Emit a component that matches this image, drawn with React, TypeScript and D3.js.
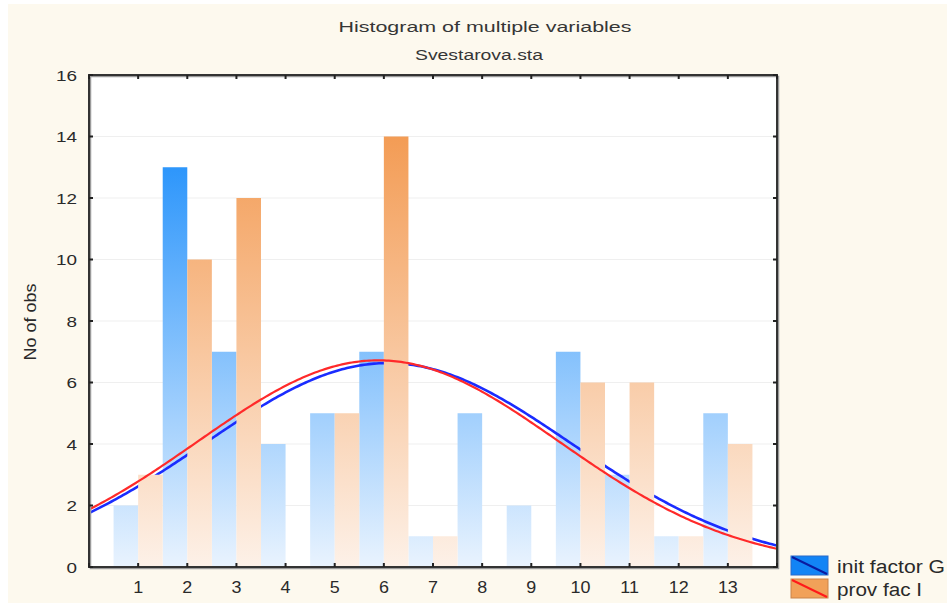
import React from "react";
import * as d3 from "d3";

const categories = [1, 2, 3, 4, 5, 6, 7, 8, 9, 10, 11, 12, 13];
const initFactorG = [2, 13, 7, 4, 5, 7, 1, 5, 2, 7, 3, 1, 5];
const provFacI = [3, 10, 12, 0, 5, 14, 1, 0, 0, 6, 6, 1, 4];
const yTicks = [0, 2, 4, 6, 8, 10, 12, 14, 16];
const xTicks = [0, 1, 2, 3, 4, 5, 6, 7, 8, 9, 10, 11, 12, 13, 14];
const seriesNames = ["init factor G", "prov fac I"];

const W = 947;
const H = 605;
const M = { left: 89, right: 777, top: 75, bottom: 567 };
const FONT = "'Liberation Sans', Arial, sans-serif";

function normalFit(values: number[]) {
  const n = d3.sum(values);
  const mean = d3.sum(values.map((v, i) => v * categories[i])) / n;
  const ss = d3.sum(values.map((v, i) => v * (categories[i] - mean) ** 2));
  const sd = Math.sqrt(ss / (n - 1));
  return (x: number) =>
    (n / (sd * Math.sqrt(2 * Math.PI))) * Math.exp(-((x - mean) ** 2) / (2 * sd * sd));
}

export default function App() {
  const x = d3.scaleLinear().domain([0, 14]).range([M.left, M.right]);
  const y = d3.scaleLinear().domain([0, 16]).range([M.bottom, M.top]);

  const samples = d3.range(0, 14.001, 0.05);
  const fitG = normalFit(initFactorG);
  const fitI = normalFit(provFacI);
  const pathG = d3.line<number>().x((d) => x(d)).y((d) => y(fitG(d)))(samples) || "";
  const pathI = d3.line<number>().x((d) => x(d)).y((d) => y(fitI(d)))(samples) || "";

  return (
    <div style={{ position: "fixed", left: 0, top: 0, width: W, height: H, background: "#fff" }}>
      <svg width={W} height={H} style={{ display: "block" }}>
        <defs>
          <linearGradient id="gBlue" gradientUnits="userSpaceOnUse" x1="0" x2="0" y1={y(0)} y2={y(14)}>
            <stop offset="0" stopColor="#e9f3fe" />
            <stop offset="1" stopColor="#1f8ffb" />
          </linearGradient>
          <linearGradient id="gOrange" gradientUnits="userSpaceOnUse" x1="0" x2="0" y1={y(0)} y2={y(14)}>
            <stop offset="0" stopColor="#fdf1e8" />
            <stop offset="1" stopColor="#f39c55" />
          </linearGradient>
          <clipPath id="plotClip">
            <rect x={M.left} y={M.top} width={M.right - M.left} height={M.bottom - M.top} />
          </clipPath>
        </defs>

        <rect x={8} y={4} width={W - 8} height={H - 6} fill="#fdf9ee" />

        <text
          x={485}
          y={32}
          textAnchor="middle"
          fontFamily={FONT}
          fontSize={15.5}
          fill="#363636"
          textLength={293}
          lengthAdjust="spacingAndGlyphs"
        >
          Histogram of multiple variables
        </text>
        <text
          x={479}
          y={60}
          textAnchor="middle"
          fontFamily={FONT}
          fontSize={15.5}
          fill="#363636"
          textLength={128}
          lengthAdjust="spacingAndGlyphs"
        >
          Svestarova.sta
        </text>

        <rect x={M.left} y={M.top} width={M.right - M.left} height={M.bottom - M.top} fill="#ffffff" />

        {yTicks.slice(1, -1).map((t) => (
          <line key={"g" + t} x1={M.left} x2={M.right} y1={y(t)} y2={y(t)} stroke="#efefef" strokeWidth={1} />
        ))}

        <g clipPath="url(#plotClip)">
          {categories.map((c, i) => (
            <rect
              key={"b" + c}
              x={x(c - 0.5)}
              y={y(initFactorG[i])}
              width={x(c) - x(c - 0.5)}
              height={y(0) - y(initFactorG[i])}
              fill="url(#gBlue)"
            />
          ))}
          <path d={pathG} fill="none" stroke="#1a2cff" strokeWidth={2.6} />
          {categories.map((c, i) => (
            <rect
              key={"o" + c}
              x={x(c)}
              y={y(provFacI[i])}
              width={x(c + 0.5) - x(c)}
              height={y(0) - y(provFacI[i])}
              fill="url(#gOrange)"
            />
          ))}
          <path d={pathI} fill="none" stroke="#ff2a2a" strokeWidth={2.2} />
        </g>

        {/* frame */}
        <rect
          x={M.left + 1.5}
          y={M.top + 1.5}
          width={M.right - M.left}
          height={M.bottom - M.top}
          fill="none"
          stroke="#9a9a9a"
          strokeWidth={1.5}
        />
        <rect
          x={M.left}
          y={M.top}
          width={M.right - M.left}
          height={M.bottom - M.top}
          fill="none"
          stroke="#333"
          strokeWidth={2}
        />

        {xTicks.map((t) => (
          <g key={"xt" + t}>
            <line x1={x(t)} x2={x(t)} y1={M.bottom} y2={M.bottom - 4} stroke="#222" strokeWidth={2} />
            <line x1={x(t)} x2={x(t)} y1={M.top} y2={M.top + 4} stroke="#222" strokeWidth={2} />
          </g>
        ))}
        {yTicks.map((t) => (
          <g key={"yt" + t}>
            <line x1={M.left} x2={M.left + 4} y1={y(t)} y2={y(t)} stroke="#222" strokeWidth={2} />
            <line x1={M.right} x2={M.right - 4} y1={y(t)} y2={y(t)} stroke="#222" strokeWidth={2} />
            <g transform={`translate(77,${y(t)}) scale(1.22,1)`}>
              <text
                x={0}
                y={0}
                dy="0.36em"
                textAnchor="end"
                fontFamily={FONT}
                fontSize={15.5}
                fontWeight={500}
                fill="#2a2a2a"
              >
                {t}
              </text>
            </g>
          </g>
        ))}
        {categories.map((c) => (
          <g key={"xl" + c} transform={`translate(${x(c)},593) scale(1.12,1)`}>
            <text
              x={0}
              y={0}
              textAnchor="middle"
              fontFamily={FONT}
              fontSize={16}
              fill="#2a2a2a"
            >
              {c}
            </text>
          </g>
        ))}

        <text
          transform={`translate(36,322) rotate(-90)`}
          textAnchor="middle"
          fontFamily={FONT}
          fontSize={16}
          fill="#2a2a2a"
          textLength={77}
          lengthAdjust="spacingAndGlyphs"
        >
          No of obs
        </text>

        {/* legend */}
        <g>
          <rect x={791} y={556} width={37} height={19} fill="#1284f5" stroke="#2a6bc8" strokeWidth={1} />
          <line x1={792} y1={557} x2={827} y2={574} stroke="#0a1aa0" strokeWidth={2} />
          <text
            x={837}
            y={573}
            fontFamily={FONT}
            fontSize={18}
            fill="#2a2a2a"
            textLength={108}
            lengthAdjust="spacingAndGlyphs"
          >
            {seriesNames[0]}
          </text>
          <rect x={791} y={579} width={37} height={19} fill="#f1a159" stroke="#c9834a" strokeWidth={1} />
          <line x1={792} y1={580} x2={827} y2={597} stroke="#ff1a1a" strokeWidth={2} />
          <text
            x={837}
            y={596}
            fontFamily={FONT}
            fontSize={18}
            fill="#2a2a2a"
            textLength={85}
            lengthAdjust="spacingAndGlyphs"
          >
            {seriesNames[1]}
          </text>
        </g>
      </svg>
    </div>
  );
}
